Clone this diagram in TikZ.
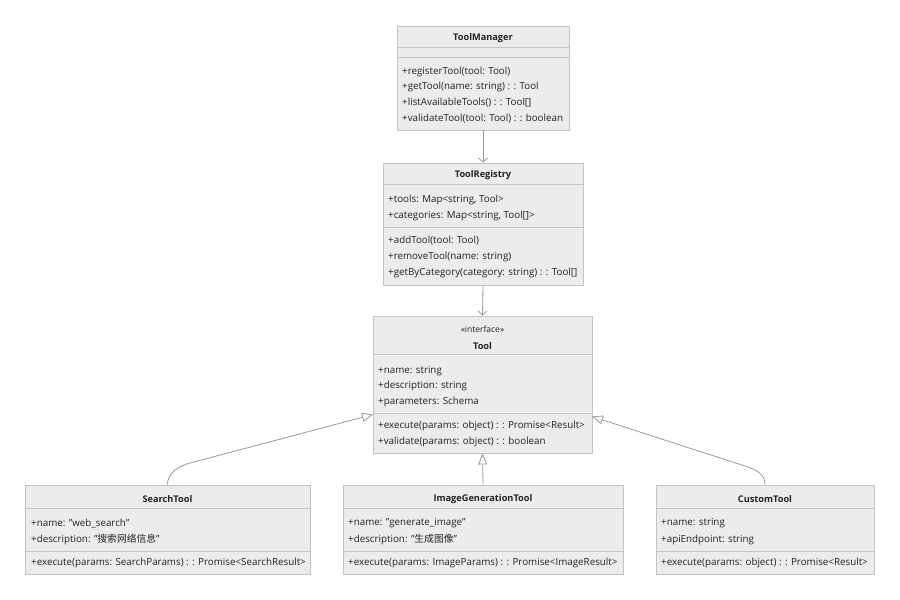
\documentclass[tikz,border=0pt]{standalone}
\usepackage{fontspec}
\setmainfont{Open Sans}
\newfontfamily\cjk{Noto Sans CJK SC}
\usetikzlibrary{arrows.meta}
\definecolor{boxfill}{HTML}{ECECEC}
\definecolor{boxline}{HTML}{C4C4C4}
\definecolor{edgecol}{HTML}{999999}
\definecolor{txt}{HTML}{222222}
\begin{document}
\begin{tikzpicture}[x=1pt,y=-1pt,
  cls/.style={draw=boxline, fill=boxfill, line width=0.9pt, inner sep=0pt},
  sepline/.style={draw=boxline, line width=0.9pt},
  title/.style={font=\fontsize{9.2}{11}\selectfont\bfseries, text=txt, inner sep=0pt},
  stereo/.style={font=\fontsize{8.5}{10}\selectfont, text=txt, inner sep=0pt},
  mem/.style={font=\fontsize{9.8}{11}\selectfont, text=txt, anchor=west, inner sep=0pt},
  dep/.style={draw=edgecol, line width=0.8pt, -{Straight Barb[length=4pt,width=9pt]}},
  real/.style={draw=edgecol, line width=0.8pt, -{Triangle[open, length=11pt, width=9pt, fill=white]}}
]
\useasboundingbox[fill=white] (0,0) rectangle (900,600);

% ToolManager
\node[cls, minimum width=172pt, minimum height=104pt] (tm) at (483,78) {};
\draw[sepline] (397,47.5) -- (569,47.5);
\draw[sepline] (397,57.5) -- (569,57.5);
\node[title] (tmT) at (483,38) {ToolManager};
\node[mem] (tm1) at (402,71.5) {+registerTool(tool: Tool)};
\node[mem] (tm2) at (402,87) {+getTool(name: string) : : Tool};
\node[mem] (tm3) at (402,103) {+listAvailableTools() : : Tool[]};
\node[mem] (tm4) at (402,119) {+validateTool(tool: Tool) : : boolean};

% ToolRegistry
\node[cls, minimum width=200pt, minimum height=122pt] (tr) at (483,224) {};
\draw[sepline] (383,184) -- (583,184);
\draw[sepline] (383,227) -- (583,227);
\node[title] (trT) at (483,175.5) {ToolRegistry};
\node[mem] (tr1) at (388,200) {+tools: Map<string, Tool>};
\node[mem] (tr2) at (388,215.5) {+categories: Map<string, Tool[]>};
\node[mem] (tr3) at (388,241) {+addTool(tool: Tool)};
\node[mem] (tr4) at (388,257) {+removeTool(name: string)};
\node[mem] (tr5) at (388,273) {+getByCategory(category: string) : : Tool[]};

% Tool
\node[cls, minimum width=219pt, minimum height=137pt] (tool) at (482.5,384.5) {};
\draw[sepline] (373,354) -- (592,354);
\draw[sepline] (373,413.5) -- (592,413.5);
\node[stereo] (toolS) at (482.5,329) {«interface»};
\node[title] (toolT) at (482.5,346) {Tool};
\node[mem] (to1) at (378,371) {+name: string};
\node[mem] (to2) at (378,386) {+description: string};
\node[mem] (to3) at (378,402) {+parameters: Schema};
\node[mem] (to4) at (378,426) {+execute(params: object) : : Promise<Result>};
\node[mem] (to5) at (378,442) {+validate(params: object) : : boolean};

% SearchTool
\node[cls, minimum width=285pt, minimum height=89pt] (st) at (167.5,529.5) {};
\draw[sepline] (25,508.5) -- (310,508.5);
\draw[sepline] (25,551) -- (310,551);
\node[title] (stT) at (167.5,499) {SearchTool};
\node[mem] (st1) at (31,523.5) {+name: "web\_search"};
\node[mem] (st2) at (31,539.5) {+description: "{\cjk 搜索网络信息}"};
\node[mem] (st3) at (31,562.5) {+execute(params: SearchParams) : : Promise<SearchResult>};

% ImageGenerationTool
\node[cls, minimum width=280pt, minimum height=89pt] (igt) at (483,529.5) {};
\draw[sepline] (343,508.5) -- (623,508.5);
\draw[sepline] (343,551) -- (623,551);
\node[title] (igtT) at (483,499) {ImageGenerationTool};
\node[mem] (ig1) at (348,523.5) {+name: "generate\_image"};
\node[mem] (ig2) at (348,539.5) {+description: "{\cjk 生成图像}"};
\node[mem] (ig3) at (348,562.5) {+execute(params: ImageParams) : : Promise<ImageResult>};

% CustomTool
\node[cls, minimum width=218pt, minimum height=89pt] (ct) at (765,529.5) {};
\draw[sepline] (656,508.5) -- (874,508.5);
\draw[sepline] (656,551) -- (874,551);
\node[title] (ctT) at (765,499) {CustomTool};
\node[mem] (ct1) at (661,523.5) {+name: string};
\node[mem] (ct2) at (661,539.5) {+apiEndpoint: string};
\node[mem] (ct3) at (661,562.5) {+execute(params: object) : : Promise<Result>};

% connectors
\coordinate (tipL) at (373,414.5);
\coordinate (tipR) at (592,416.5);
\draw[dep] (tm.south) -- (tr.north);
\draw[dep] (tr.south) -- (tool.north);
\draw[real] (igt.north) -- (tool.south);
\draw[real] (st.north) .. controls (167.5,473) and (178.4,466.1) .. (190,463) -- (tipL);
\draw[real] (ct.north) .. controls (765,474) and (756.4,469.7) .. (745,466) -- (tipR);
\end{tikzpicture}
\end{document}
